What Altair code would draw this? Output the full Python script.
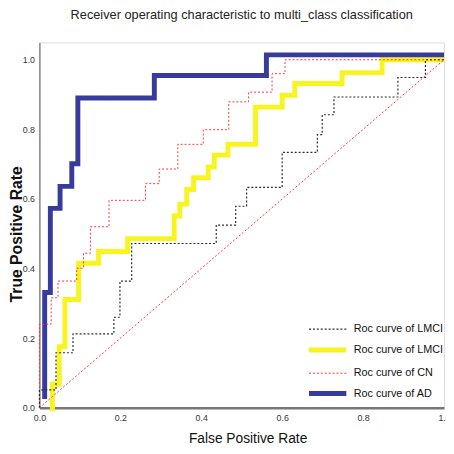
import altair as alt
import pandas as pd

title_text = "Receiver operating characteristic to multi_class classification"
x_title = "False Positive Rate"
y_title = "True Positive Rate"

series_keys = ["a", "b", "c", "d"]
series_labels = ["Roc curve of LMCI", "Roc curve of LMCI", "Roc curve of CN", "Roc curve of AD"]
series_colors = ["#2b2b2b", "#f8f41f", "#ff3333", "#363b9c"]
series_dash = [[2, 2], [1, 0], [2, 2], [1, 0]]
series_width = [1.2, 5, 1, 5]

# ROC corner points (fpr, tpr), one list per class
lmci1_fpr = [0.0, 0.0, 0.041, 0.083, 0.184, 0.199, 0.228, 0.437, 0.485, 0.512, 0.600, 0.687, 0.699, 0.728, 0.886, 0.954, 1.0]
lmci1_tpr = [0.0, 0.051, 0.158, 0.212, 0.260, 0.364, 0.472, 0.525, 0.579, 0.633, 0.734, 0.785, 0.842, 0.893, 0.949, 1.0, 1.0]

lmci2_fpr = [0.032, 0.032, 0.049, 0.063, 0.097, 0.146, 0.218, 0.333, 0.347, 0.364, 0.381, 0.417, 0.432, 0.466, 0.534, 0.600, 0.631, 0.748, 0.847, 1.0]
lmci2_tpr = [-0.01, 0.068, 0.175, 0.311, 0.415, 0.449, 0.486, 0.551, 0.585, 0.627, 0.661, 0.692, 0.726, 0.757, 0.864, 0.898, 0.932, 0.963, 1.0, 1.0]

cn_fpr = [0.0, 0.0, 0.029, 0.046, 0.092, 0.109, 0.126, 0.172, 0.262, 0.296, 0.342, 0.405, 0.468, 0.517, 0.575, 0.607, 1.0]
cn_tpr = [0.0, 0.240, 0.316, 0.364, 0.401, 0.444, 0.520, 0.596, 0.644, 0.686, 0.757, 0.799, 0.879, 0.907, 0.960, 1.0, 1.0]

ad_fpr = [0.013, 0.013, 0.027, 0.051, 0.080, 0.095, 0.284, 0.561, 1.0]
ad_tpr = [0.025, 0.331, 0.573, 0.636, 0.701, 0.890, 0.955, 1.014, 1.014]

chance_fpr = [0.0, 1.0]
chance_tpr = [0.0, 1.0]

rows = []
for key, fx, ty in zip(series_keys, [lmci1_fpr, lmci2_fpr, cn_fpr, ad_fpr], [lmci1_tpr, lmci2_tpr, cn_tpr, ad_tpr]):
    for i, (a, b) in enumerate(zip(fx, ty)):
        rows.append({"key": key, "i": i, "fpr": a, "tpr": b})
df = pd.DataFrame(rows)
chance_df = pd.DataFrame({"fpr": chance_fpr, "tpr": chance_tpr})

label_expr = " : ".join(
    f"datum.value == '{k}' ? '{l}'" for k, l in zip(series_keys, series_labels)
) + " : ''"

FONT = "Liberation Sans, Arial, sans-serif"

legend = alt.Legend(
    title=None, orient="none", legendX=281.5, legendY=281.5, padding=0,
    symbolType="M-2,0H2", symbolSize=361, labelOffset=14.5, rowPadding=3.7,
    labelFont=FONT, labelFontSize=11, labelColor="#111", labelExpr=label_expr,
    symbolFillColor="transparent", labelLimit=200,
)

xs = alt.Scale(domain=[0, 1], nice=False, zero=False)
ys = alt.Scale(domain=[0, 1.05], nice=False, zero=False)

x_axis = alt.Axis(
    title=x_title, values=[0, 0.2, 0.4, 0.6, 0.8, 1.0], format=".1f", grid=False,
    ticks=False, labelPadding=6, labelFont=FONT, labelFontSize=9, labelColor="#333",
    labelFlush=False, domainColor="#777", domainWidth=2.5, titleFont=FONT, titleFontSize=14,
    titleFontWeight="normal", titleColor="#111", titlePadding=9, titleX=212,
)
y_axis = alt.Axis(
    title=y_title, values=[0, 0.2, 0.4, 0.6, 0.8, 1.0], format=".1f", grid=False,
    ticks=False, labelPadding=5, labelFont=FONT, labelFontSize=9, labelColor="#333",
    labelFlush=False, domainColor="#555", domainWidth=1, titleFont=FONT, titleFontSize=16,
    titleFontWeight="bold", titleColor="#111", titleX=-23, titleY=195,
    titleAngle=270, titleBaseline="middle", titleAlign="center",
)

def series_layer(key):
    return alt.Chart(df).transform_filter(alt.datum.key == key).mark_line(interpolate="step-after").encode(
        x=alt.X("fpr:Q", scale=xs, axis=x_axis),
        y=alt.Y("tpr:Q", scale=ys, axis=y_axis),
        order="i:Q",
        color=alt.Color("key:N", scale=alt.Scale(domain=series_keys, range=series_colors), legend=legend),
        strokeDash=alt.StrokeDash("key:N", scale=alt.Scale(type="ordinal", domain=series_keys, range=series_dash), legend=legend),
        strokeWidth=alt.StrokeWidth("key:N", scale=alt.Scale(type="ordinal", domain=series_keys, range=series_width), legend=legend),
    )

chance = alt.Chart(chance_df).mark_line(color="#ff3333", strokeWidth=1, strokeDash=[2, 2]).encode(
    x=alt.X("fpr:Q", scale=xs, axis=x_axis),
    y=alt.Y("tpr:Q", scale=ys, axis=y_axis),
)

chart = alt.layer(
    series_layer("b"), series_layer("d"), series_layer("c"), series_layer("a"), chance
).properties(
    width=412, height=372,
    title=alt.TitleParams(title_text, font=FONT, fontSize=13, fontWeight="normal",
                          color="#222", anchor="middle", offset=21),
    autosize=alt.AutoSizeParams(type="none"),
    padding={"left": 32, "top": 31, "right": 2, "bottom": 35},
).configure_view(stroke="#888", strokeWidth=1).configure(background="white")

chart.save("out.html", embed_options={"renderer": "svg", "actions": False})
